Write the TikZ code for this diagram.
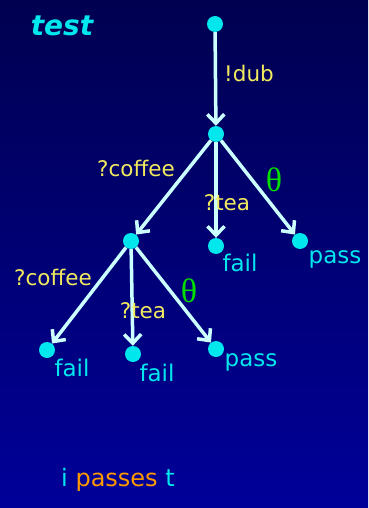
\documentclass[tikz,border=0pt]{standalone}
\usepackage{fontspec}
\setmainfont{DejaVu Sans}
\newfontfamily\thfont{Liberation Serif}
\usetikzlibrary{arrows.meta}
\definecolor{bgtop}{HTML}{000050}
\definecolor{bgbot}{HTML}{000099}
\definecolor{dotc}{HTML}{00E8EE}
\definecolor{arrc}{HTML}{CCFFFF}
\definecolor{lblc}{HTML}{F2EA5E}
\definecolor{thc}{HTML}{00DD00}
\definecolor{orc}{HTML}{FF9900}
\begin{document}
\begin{tikzpicture}[x=1pt,y=-1pt,
  st/.style={circle,fill=dotc,inner sep=0pt,minimum size=16pt},
  tr/.style={draw=arrc,line width=3.5pt,-{Straight Barb[length=9pt,width=17pt]}},
  act/.style={text=lblc,font=\fontsize{21.5}{24}\selectfont,inner sep=0pt},
  res/.style={text=dotc,font=\fontsize{23}{26}\selectfont,inner sep=0pt},
  th/.style={text=thc,font=\thfont\fontsize{34}{36}\selectfont,inner sep=0pt}]
\shade[top color=bgtop,bottom color=bgbot] (0,0) rectangle (368,508);
\useasboundingbox (0,0) rectangle (368,508);
% states
\node[st] (r) at (215,24) {};
\node[st] (a) at (216,134) {};
\node[st] (b) at (131,241) {};
\node[st] (f1) at (216,246) {};
\node[st] (p1) at (300,241) {};
\node[st] (f2) at (47,350) {};
\node[st] (f3) at (133,354) {};
\node[st] (p2) at (216,349) {};
% transitions
\draw[tr] (r) -- (a);
\draw[tr] (a) -- (b);
\draw[tr] (a) -- (f1);
\draw[tr] (a) -- (p1);
\draw[tr] (b) -- (f2);
\draw[tr] (b) -- (f3);
\draw[tr] (b) -- (p2);
% labels
\node[act] (l1) at (249,73) {!dub};
\node[act] (l2) at (136,168) {?coffee};
\node[act] (l3) at (227,203) {?tea};
\node[th] (l4) at (274,180) {θ};
\node[act] (l5) at (53,277) {?coffee};
\node[act] (l6) at (143,311) {?tea};
\node[th] (l7) at (189,291) {θ};
\node[res] (o1) at (240,263) {fail};
\node[res] (o2) at (335,259) {pass};
\node[res] (o3) at (72,368) {fail};
\node[res] (o4) at (157,373) {fail};
\node[res] (o5) at (251,362) {pass};
\node[text=dotc,font=\bfseries\itshape\fontsize{28}{30}\selectfont,inner sep=0pt] (t) at (62,26) {test};
\node[font=\fontsize{24}{26}\selectfont,inner sep=0pt] (c) at (118,480) {\textcolor{dotc}{i} \textcolor{orc}{passes} \textcolor{dotc}{t}};
\end{tikzpicture}
\end{document}
